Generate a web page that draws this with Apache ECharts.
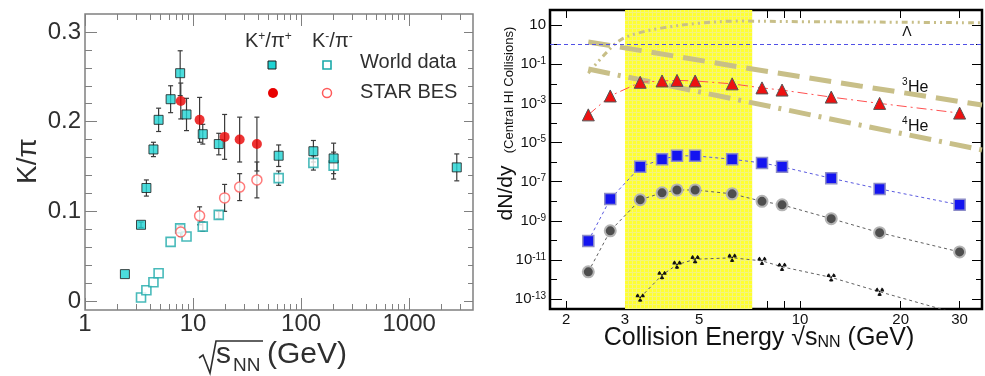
<!DOCTYPE html>
<html>
<head>
<meta charset="utf-8">
<script src="https://cdn.jsdelivr.net/npm/echarts@6/dist/echarts.min.js"></script>
<style>
  html, body { margin: 0; padding: 0; background: #fff; }
  #chart { width: 985px; height: 376px; }
</style>
</head>
<body>
<div id="chart"></div>
<script>
// ---------- Left panel: K/pi ratios vs sqrt(s_NN) ----------
const kPlusWorldE   = [2.34, 3.3, 3.7, 4.3, 4.8, 6.2, 7.6, 8.7, 12.3, 17.3, 62, 130, 200, 2760];
const kPlusWorldVal = [0.030, 0.085, 0.126, 0.169, 0.202, 0.225, 0.254, 0.208, 0.186, 0.175, 0.162, 0.167, 0.159, 0.149];
const kPlusWorldErr = [0, 0.003, 0.009, 0.008, 0.013, 0.015, 0.025, 0.018, 0.011, 0.012, 0.012, 0.012, 0.017, 0.015];

const kMinusWorldE   = [3.3, 3.7, 4.3, 4.8, 6.2, 7.6, 8.7, 12.3, 17.3, 62, 130, 200];
const kMinusWorldVal = [0.004, 0.012, 0.021, 0.031, 0.066, 0.081, 0.072, 0.083, 0.096, 0.137, 0.154, 0.151];
const kMinusWorldErr = [0, 0, 0, 0, 0, 0.003, 0, 0.005, 0.004, 0.008, 0.008, 0.015];

const starBesE        = [7.7, 11.5, 19.6, 27, 39];
const kPlusStarVal    = [0.223, 0.202, 0.183, 0.180, 0.175];
const kPlusStarErr    = [0.02, 0.025, 0.025, 0.025, 0.03];
const kMinusStarVal   = [0.077, 0.095, 0.115, 0.127, 0.135];
const kMinusStarErr   = [0.005, 0.01, 0.015, 0.015, 0.02];

// axis ranges and ticks (left)
const L_X_MIN = 1, L_X_MAX = 3900;
const L_Y_MIN = -0.01, L_Y_MAX = 0.32;
const lxMajor = [1, 10, 100, 1000];
const lxMinor = [2, 3, 4, 5, 6, 7, 8, 9, 20, 30, 40, 50, 60, 70, 80, 90, 200, 300, 400, 500, 600, 700, 800, 900, 2000, 3000];
const lyMajor = [0, 0.1, 0.2, 0.3];
const lyMinor = [0.02, 0.04, 0.06, 0.08, 0.12, 0.14, 0.16, 0.18, 0.22, 0.24, 0.26, 0.28];

// ---------- Right panel: hypernuclei yields (central HI collisions) ----------
const energies = [2.33, 2.71, 3.33, 3.87, 4.29, 4.86, 6.27, 7.7, 8.84, 12.4, 17.3, 30];
const h3L   = [2.6e-4, 2.4e-3, 1.2e-2, 1.4e-2, 1.5e-2, 1.4e-2, 1.0e-2, 6.2e-3, 4.8e-3, 2.1e-3, 1.0e-3, 3.2e-4];
const h5LL  = [9.5e-11, 1.3e-8, 5.8e-7, 1.4e-6, 2.1e-6, 2.1e-6, 1.4e-6, 9.1e-7, 5.8e-7, 1.5e-7, 4.3e-8, 6.6e-9];
const he6LL = [2.5e-12, 3.1e-10, 1.2e-8, 2.7e-8, 3.8e-8, 3.8e-8, 2.4e-8, 1.0e-8, 6.6e-9, 1.3e-9, 2.5e-10, 2.6e-11];
const energiesXi = [3.33, 3.87, 4.29, 4.86, 6.27, 7.7, 8.84, 12.4, 17.3, 30];
const he7LLXi    = [1.2e-13, 1.7e-12, 5.8e-12, 1.1e-11, 1.3e-11, 9.1e-12, 4.5e-12, 1.3e-12, 2.4e-13, 1.7e-14];

// thermal-model reference curves
const lambdaE   = [2.33, 2.6, 2.9, 3.3, 3.85, 5.0, 6.6, 10, 20, 35];
const lambdaVal = [0.035, 0.3, 1.7, 4.0, 7.0, 12.5, 16, 15, 14, 13];
const he3E   = [2.33, 3.57, 6.62, 15.1, 35];
const he3Val = [1.36, 0.42, 0.072, 0.0078, 8.3e-4];
const he4E   = [2.33, 5.03, 15.1, 35];
const he4Val = [0.057, 3.8e-3, 7.9e-5, 4.2e-6];
const unitLevel = 1;                 // dashed reference at dN/dy = 1
const fxtRange = [3.0, 7.2];         // STAR fixed-target energy window

// axis ranges and ticks (right)
const R_X_MIN = 1.79, R_X_MAX = 35;
const R_Y_MIN = 3.16e-14, R_Y_MAX = 59;
const rxTicks  = [2, 3, 4, 5, 7, 8, 9, 10, 20, 30];
const rxLabels = [2, 3, 5, 10, 20, 30];
const ryLong   = [-13, -11, -9, -7, -5, -3, -1, 1];
const ryShort  = [-12, -10, -8, -6, -4, -2, 0];

const FONT = '"Liberation Sans", Arial, Helvetica, sans-serif';
const log10 = Math.log10;

// ---------- helpers ----------
function tickAxis(gridIndex, position, min, max, ticks, len, color, labels, labelOpts) {
  const ax = {
    type: 'value', gridIndex, position, min, max,
    axisLine: { show: false, onZero: false },
    splitLine: { show: false },
    axisTick: { show: true, inside: true, length: len, lineStyle: { color, width: 1 }, customValues: ticks },
    axisLabel: { show: false }
  };
  if (labels) {
    ax.axisLabel = Object.assign({ show: true, customValues: labels, fontFamily: FONT }, labelOpts);
  }
  return ax;
}

function errorBarSeries(E, V, Err) {
  return {
    type: 'custom', xAxisIndex: 0, yAxisIndex: 0, silent: true, z: 2,
    data: E.map((e, i) => [e, V[i], Err[i]]),
    encode: { x: 0, y: 1 },
    renderItem: (params, api) => {
      const x = api.value(0), y = api.value(1), e = api.value(2);
      if (!e) return null;
      const hi = api.coord([x, y + e]), lo = api.coord([x, y - e]);
      const cap = 2.5, st = { stroke: '#3a3a3a', lineWidth: 1.2 };
      return {
        type: 'group', children: [
          { type: 'line', shape: { x1: hi[0], y1: hi[1], x2: lo[0], y2: lo[1] }, style: st },
          { type: 'line', shape: { x1: hi[0] - cap, y1: hi[1], x2: hi[0] + cap, y2: hi[1] }, style: st },
          { type: 'line', shape: { x1: lo[0] - cap, y1: lo[1], x2: lo[0] + cap, y2: lo[1] }, style: st }
        ]
      };
    }
  };
}

function pointSeries(name, E, V, symbol, size, itemStyle) {
  return {
    name, type: 'scatter', xAxisIndex: 0, yAxisIndex: 0, z: 3,
    data: E.map((e, i) => [e, V[i]]),
    symbol, symbolSize: size, itemStyle
  };
}

// radiation-trefoil marker for the Xi hypernucleus
function trefoilPath() {
  const R = 10, r = 3.0, f = p => (p[0] + 10).toFixed(2) + ' ' + (p[1] + 10).toFixed(2);
  let d = '';
  [-150, -30, 90].forEach(c => {
    const a0 = (c - 30) * Math.PI / 180, a1 = (c + 30) * Math.PI / 180, seg = [];
    for (let k = 0; k <= 6; k++) { const a = a0 + (a1 - a0) * k / 6; seg.push([R * Math.cos(a), R * Math.sin(a)]); }
    for (let k = 6; k >= 0; k--) { const a = a0 + (a1 - a0) * k / 6; seg.push([r * Math.cos(a), r * Math.sin(a)]); }
    d += 'M' + seg.map(f).join(' L') + ' Z ';
  });
  const dot = [];
  for (let k = 0; k < 12; k++) { const a = k * Math.PI / 6; dot.push([2 * Math.cos(a), 2 * Math.sin(a)]); }
  d += 'M' + dot.map(f).join(' L') + ' Z';
  return 'path://' + d;
}

// hatched yellow fill for the fixed-target window
const pat = document.createElement('canvas');
pat.width = 4; pat.height = 4;
const pg = pat.getContext('2d');
pg.fillStyle = '#ffff30'; pg.fillRect(0, 0, 4, 4);
pg.fillStyle = '#f4f47c'; pg.fillRect(0, 0, 4, 1); pg.fillRect(0, 0, 1, 4);

function yieldSeries(name, E, V, symbol, size, itemStyle, lineStyle, extra) {
  return Object.assign({
    name, type: 'line', xAxisIndex: 1, yAxisIndex: 1, z: 4,
    data: E.map((e, i) => [e, V[i]]),
    symbol, symbolSize: size, showSymbol: true, itemStyle, lineStyle, clip: true
  }, extra || {});
}
function curveSeries(E, V, lineStyle, smooth) {
  return {
    type: 'line', xAxisIndex: 1, yAxisIndex: 1, z: 3, silent: true, smooth: smooth || false,
    data: E.map((e, i) => [e, V[i]]), showSymbol: false, symbol: 'none', lineStyle, clip: true
  };
}

function label(x, y, text, size, align, extra) {
  return {
    type: 'text', x, y,
    style: Object.assign({
      text, fontSize: size, fontFamily: FONT, fill: '#111',
      align, verticalAlign: 'middle', textAlign: align, textVerticalAlign: 'middle'
    }, extra || {})
  };
}

const OLIVE = '#c8bf88';
const chart = echarts.init(document.getElementById('chart'), null, { renderer: 'canvas' });

const option = {
  animation: false,
  backgroundColor: '#ffffff',
  grid: [
    { left: 85, top: 14, width: 388, height: 296, show: true, borderColor: '#808080', borderWidth: 1.5, backgroundColor: 'transparent' },
    { left: 550, top: 10, width: 432, height: 299, show: true, borderColor: '#000000', borderWidth: 2.5, backgroundColor: 'transparent' }
  ],
  xAxis: [
    { type: 'log', gridIndex: 0, min: L_X_MIN, max: L_X_MAX, show: false },
    { type: 'log', gridIndex: 1, min: R_X_MIN, max: R_X_MAX, show: false },
    // left panel tick marks (log10 space)
    tickAxis(0, 'bottom', log10(L_X_MIN), log10(L_X_MAX), lxMajor.map(log10), 12, '#808080',
      lxMajor.map(log10), { fontSize: 24, color: '#2f2f2f', margin: 2, formatter: v => String(Math.round(Math.pow(10, v))) }),
    tickAxis(0, 'bottom', log10(L_X_MIN), log10(L_X_MAX), lxMinor.map(log10), 6, '#808080'),
    tickAxis(0, 'top', log10(L_X_MIN), log10(L_X_MAX), lxMajor.map(log10), 12, '#808080'),
    tickAxis(0, 'top', log10(L_X_MIN), log10(L_X_MAX), lxMinor.map(log10), 6, '#808080'),
    // right panel tick marks
    tickAxis(1, 'bottom', log10(R_X_MIN), log10(R_X_MAX), rxTicks.map(log10), 8, '#000',
      rxLabels.map(log10), { fontSize: 15, color: '#111', margin: 3, formatter: v => String(Math.round(Math.pow(10, v))) }),
    tickAxis(1, 'top', log10(R_X_MIN), log10(R_X_MAX), rxTicks.map(log10), 8, '#000')
  ],
  yAxis: [
    { type: 'value', gridIndex: 0, min: L_Y_MIN, max: L_Y_MAX, show: false },
    { type: 'log', gridIndex: 1, min: R_Y_MIN, max: R_Y_MAX, show: false },
    tickAxis(0, 'left', L_Y_MIN, L_Y_MAX, lyMajor, 12, '#808080',
      lyMajor, { fontSize: 24, color: '#2f2f2f', margin: 4, formatter: v => (v === 0 ? '0' : v.toFixed(1)) }),
    tickAxis(0, 'left', L_Y_MIN, L_Y_MAX, lyMinor, 7, '#808080'),
    tickAxis(0, 'right', L_Y_MIN, L_Y_MAX, lyMajor, 9, '#808080'),
    tickAxis(0, 'right', L_Y_MIN, L_Y_MAX, lyMinor, 5, '#808080'),
    tickAxis(1, 'left', log10(R_Y_MIN), log10(R_Y_MAX), ryLong, 12, '#000',
      ryLong, {
        fontSize: 15, color: '#111', margin: 4,
        formatter: v => { const n = Math.round(v); return n === 1 ? '10' : '10{s|' + n + '}'; },
        rich: { s: { fontSize: 10, fontFamily: FONT, color: '#111', verticalAlign: 'top', padding: [0, 0, 6, 0] } }
      }),
    tickAxis(1, 'left', log10(R_Y_MIN), log10(R_Y_MAX), ryShort, 7, '#000'),
    tickAxis(1, 'right', log10(R_Y_MIN), log10(R_Y_MAX), ryLong, 10, '#000'),
    tickAxis(1, 'right', log10(R_Y_MIN), log10(R_Y_MAX), ryShort, 6, '#000')
  ],
  series: [
    // left panel
    errorBarSeries(kPlusWorldE, kPlusWorldVal, kPlusWorldErr),
    errorBarSeries(kMinusWorldE, kMinusWorldVal, kMinusWorldErr),
    errorBarSeries(starBesE, kPlusStarVal, kPlusStarErr),
    errorBarSeries(starBesE, kMinusStarVal, kMinusStarErr),
    pointSeries('K-/pi- World data', kMinusWorldE, kMinusWorldVal, 'rect', 9,
      { color: '#ffffff', borderColor: '#1aa9a9', borderWidth: 1.6 }),
    pointSeries('K-/pi- STAR BES', starBesE, kMinusStarVal, 'circle', 10,
      { color: '#ffffff', borderColor: '#ff5a5a', borderWidth: 1.5 }),
    pointSeries('K+/pi+ World data', kPlusWorldE, kPlusWorldVal, 'rect', 9,
      { color: '#1fd3d3', borderColor: '#1a1a1a', borderWidth: 1 }),
    pointSeries('K+/pi+ STAR BES', starBesE, kPlusStarVal, 'circle', 10,
      { color: '#e80000', borderWidth: 0 }),

    // right panel: FXT window and unit reference line
    {
      type: 'line', xAxisIndex: 1, yAxisIndex: 1, z: 1, silent: true, data: [],
      markArea: { silent: true, itemStyle: { color: { image: pat, repeat: 'repeat' } }, data: [[{ xAxis: fxtRange[0] }, { xAxis: fxtRange[1] }]] },
      markLine: { silent: true, symbol: 'none', label: { show: false },
        lineStyle: { color: '#5050e6', width: 1, type: [4, 3] }, data: [{ yAxis: unitLevel }] }
    },
    curveSeries(lambdaE, lambdaVal, { color: OLIVE, width: 3, type: [6, 4, 2, 4, 2, 4] }, 0.35),
    curveSeries(he3E, he3Val, { color: OLIVE, width: 5, type: [22, 10] }),
    curveSeries(he4E, he4Val, { color: OLIVE, width: 5, type: [22, 8, 3, 8] }),
    yieldSeries('3LH', energies, h3L, 'triangle', 12,
      { color: '#ee1111', borderColor: '#555', borderWidth: 1 },
      { color: '#ff5050', width: 1, type: [10, 4, 2, 4] }),
    yieldSeries('5LLH', energies, h5LL, 'rect', 11,
      { color: '#1414f0', borderColor: '#8c8cc8', borderWidth: 1.5 },
      { color: '#5a5ae0', width: 1, type: [3, 3] }),
    yieldSeries('6LLHe', energies, he6LL, 'circle', 11,
      { color: '#4e4e4e', borderColor: '#b4b4b4', borderWidth: 2 },
      { color: '#606060', width: 1, type: [3, 3] }),
    yieldSeries('7LLXiHe', energiesXi, he7LLXi, trefoilPath(), 9,
      { color: '#111' },
      { color: '#606060', width: 1, type: [3, 3] }, { symbolKeepAspect: true })
  ],
  graphic: [
    // left panel titles
    { type: 'text', x: 28, y: 161, rotation: Math.PI / 2,
      style: { text: 'K/π', fontSize: 28, fontFamily: FONT, fill: '#2f2f2f', align: 'center', verticalAlign: 'middle', textAlign: 'center', textVerticalAlign: 'middle' } },
    { type: 'polyline', shape: { points: [[199, 358], [203, 355], [210, 373], [216, 341], [263, 341]] },
      style: { stroke: '#2f2f2f', lineWidth: 1.6, fill: null } },
    label(216, 355, 's', 30, 'left', { fill: '#2f2f2f' }),
    label(233, 366, 'NN', 19, 'left', { fill: '#2f2f2f' }),
    label(267, 355, '(GeV)', 30, 'left', { fill: '#2f2f2f' }),
    // left legend
    label(245, 41, 'K{s|+}/π{s|+}', 20, 'left', { fill: '#2f2f2f',
      rich: { s: { fontSize: 12, fontFamily: FONT, fill: '#2f2f2f', verticalAlign: 'top' } } }),
    label(312, 41, 'K{s|-}/π{s|-}', 20, 'left', { fill: '#2f2f2f',
      rich: { s: { fontSize: 12, fontFamily: FONT, fill: '#2f2f2f', verticalAlign: 'top' } } }),
    { type: 'rect', shape: { x: 268, y: 61, width: 8, height: 8 }, style: { fill: '#1fd3d3', stroke: '#1a1a1a', lineWidth: 1 } },
    { type: 'rect', shape: { x: 323, y: 61, width: 8, height: 8 }, style: { fill: '#ffffff', stroke: '#1aa9a9', lineWidth: 1.6 } },
    { type: 'circle', shape: { cx: 273, cy: 93, r: 5 }, style: { fill: '#e80000' } },
    { type: 'circle', shape: { cx: 327, cy: 93, r: 4.5 }, style: { fill: '#ffffff', stroke: '#ff5a5a', lineWidth: 1.5 } },
    label(360, 62, 'World data', 20, 'left', { fill: '#2f2f2f' }),
    label(360, 92, 'STAR BES', 20, 'left', { fill: '#2f2f2f' }),

    // right panel titles
    { type: 'text', x: 506, y: 193, rotation: Math.PI / 2,
      style: { text: 'dN/dy', fontSize: 21, fontFamily: FONT, fill: '#111', align: 'center', verticalAlign: 'middle', textAlign: 'center', textVerticalAlign: 'middle' } },
    { type: 'text', x: 509, y: 90, rotation: Math.PI / 2,
      style: { text: '(Central HI Collisions)', fontSize: 13, fontFamily: FONT, fill: '#111', align: 'center', verticalAlign: 'middle', textAlign: 'center', textVerticalAlign: 'middle' } },
    label(759, 338, 'Collision Energy √s{n|NN} (GeV)', 25, 'center',
      { rich: { n: { fontSize: 16, fontFamily: FONT, fill: '#111', verticalAlign: 'bottom' } } }),
    label(750, 297, 'STAR FXT', 8, 'right', { fontWeight: 'bold', fill: '#555' }),
    label(907, 32, 'Λ', 14, 'center'),
    label(902, 82, '3', 10, 'left'),
    label(908, 88, 'He', 16, 'left'),
    label(902, 121, '4', 10, 'left'),
    label(908, 127, 'He', 16, 'left'),

    // hypernucleus names
    label(630, 102, '3', 10, 'center'),
    label(630, 114, 'Λ', 9, 'center'),
    label(635, 110, 'H', 15, 'left'),

    label(638, 144, '5', 10, 'center'),
    label(638, 155, 'ΛΛ', 9, 'right'),
    label(640, 151, 'H', 15, 'left'),

    label(638, 221, '6', 10, 'center'),
    label(639, 231, 'ΛΛ', 9, 'right'),
    label(641, 227, 'He', 15, 'left'),

    label(656, 246, '7', 10, 'center'),
    label(658, 257, 'ΛΛΞ', 9, 'right'),
    label(659, 253, 'He', 15, 'left')
  ]
};

chart.setOption(option);
</script>
</body>
</html>
